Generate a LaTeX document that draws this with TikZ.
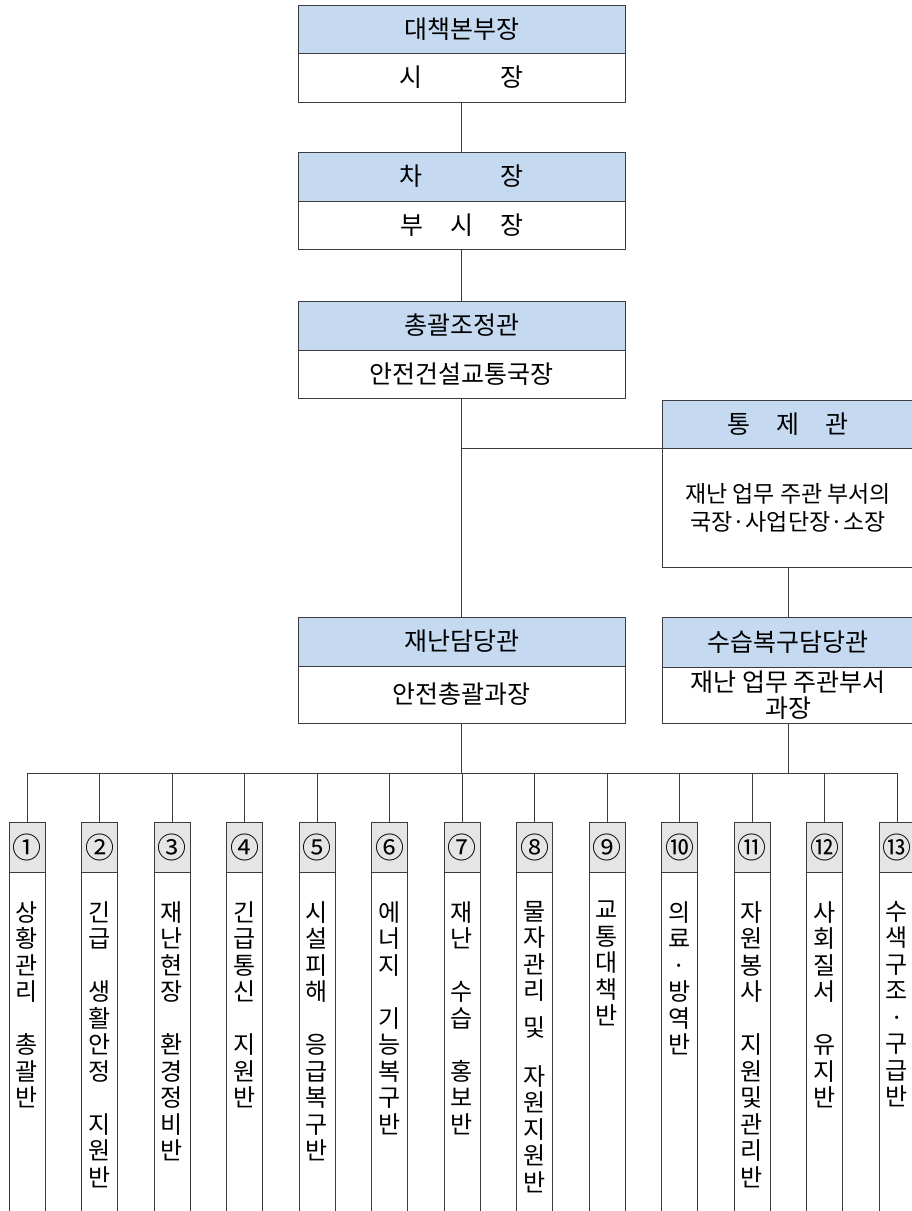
\documentclass[tikz,border=0pt]{standalone}
\usepackage{fontspec}
\setmainfont{Noto Sans CJK KR}
\usepackage{tikz}
\usetikzlibrary{positioning}
\definecolor{hdrblue}{RGB}{197,217,241}
\definecolor{hdrgray}{RGB}{229,229,229}
\definecolor{linegray}{RGB}{60,60,60}

\begin{document}
\begin{tikzpicture}[
x=1pt, y=-1pt,
font=\fontsize{25}{29}\selectfont,
hdrbox/.style={draw=linegray, fill=hdrblue, minimum width=327pt, minimum height=48.5pt, inner sep=0pt, outer sep=0pt},
bodybox/.style={draw=linegray, fill=white, minimum width=327pt, minimum height=48.5pt, inner sep=0pt, outer sep=0pt, align=center},
sidehdr/.style={hdrbox, minimum width=252pt, minimum height=48pt},
sidebody/.style={bodybox, minimum width=252pt},
colhead/.style={draw=linegray, fill=hdrgray, minimum width=36pt, minimum height=50pt, inner sep=0pt, outer sep=0pt, font=\fontsize{29}{29}\selectfont},
colbody/.style={draw=linegray, fill=white, minimum width=36pt, minimum height=380pt, inner sep=0pt, outer sep=0pt},
coltext/.style={align=center, inner sep=0pt, font=\fontsize{24}{26.5}\selectfont},
link/.style={draw=linegray, line width=0.8pt}
]
    \useasboundingbox (0,0) rectangle (912,1211);

    % Main chain
    \node[hdrbox] (hq) at (461.5,29) {대책본부장};
    \node[bodybox, below=0pt of hq] (hqb) {시\hspace{3.15em}장};
    \node[hdrbox] (vice) at (461.5,176.5) {차\hspace{3.15em}장};
    \node[bodybox, below=0pt of vice] (viceb) {부\hspace{1.08em}시\hspace{1.08em}장};
    \node[hdrbox] (coord) at (461.5,325.5) {총괄조정관};
    \node[bodybox, below=0pt of coord] (coordb) {안전건설교통국장};
    \node[hdrbox, minimum height=49pt] (disaster) at (461.5,641.5) {재난담당관};
    \node[bodybox, minimum height=57pt, below=0pt of disaster] (disasterb) {안전총괄과장};

    % Side chain
    \node[sidehdr] (ctrl) at (788,424) {통\hspace{1.05em}제\hspace{1.05em}관};
    \node[sidebody, minimum height=119pt, below=0pt of ctrl, font=\fontsize{23}{28}\selectfont] (ctrlb)
        {재난 업무 주관 부서의\\국장·사업단장·소장};
    \node[sidehdr, minimum height=50pt] (recov) at (788,642) {수습복구담당관};
    \node[sidebody, minimum height=56pt, below=0pt of recov, font=\fontsize{25}{26}\selectfont] (recovb)
        {재난 업무 주관부서\\과장};

    % Connectors
    \coordinate (bus) at (0,773);
    \draw[link] (hqb) -- (vice);
    \draw[link] (viceb) -- (coord);
    \draw[link] (coordb) -- (disaster);
    \draw[link] (ctrl.south west) -- (coordb.south |- ctrl.south west);
    \draw[link] (ctrlb) -- (recov);
    \draw[link] (disasterb.south) -- (disasterb.south |- bus);
    \draw[link] (recovb.south) -- (recovb.south |- bus);

    % Working groups
    \foreach \i/\num/\txt [evaluate=\i as \cx using 27+72.5*(\i-1)] in {
        1/①/{상\\황\\관\\리\\~\\총\\괄\\반},
        2/②/{긴\\급\\~\\생\\활\\안\\정\\~\\지\\원\\반},
        3/③/{재\\난\\현\\장\\~\\환\\경\\정\\비\\반},
        4/④/{긴\\급\\통\\신\\~\\지\\원\\반},
        5/⑤/{시\\설\\피\\해\\~\\응\\급\\복\\구\\반},
        6/⑥/{에\\너\\지\\~\\기\\능\\복\\구\\반},
        7/⑦/{재\\난\\~\\수\\습\\~\\홍\\보\\반},
        8/⑧/{물\\자\\관\\리\\[10pt]및\\[-4pt]~\\자\\원\\지\\원\\반},
        9/⑨/{교\\통\\대\\책\\반},
        10/⑩/{의\\료\\·\\방\\역\\반},
        11/⑪/{자\\원\\봉\\사\\~\\지\\원\\및\\관\\리\\반},
        12/⑫/{사\\회\\질\\서\\~\\유\\지\\반},
        13/⑬/{수\\색\\구\\조\\·\\구\\급\\반}}
    {
        \node[colhead] (num\i) at (\cx,847) {\num};
        \node[colbody, below=0pt of num\i] (col\i) {};
        \node[coltext, anchor=north] (txt\i) at ([yshift=-29pt]col\i.north) {\txt};
        \draw[link] (num\i.north) -- (num\i.north |- bus);
    }
    \draw[link] (num1.north |- bus) -- (num13.north |- bus);
\end{tikzpicture}
\end{document}
